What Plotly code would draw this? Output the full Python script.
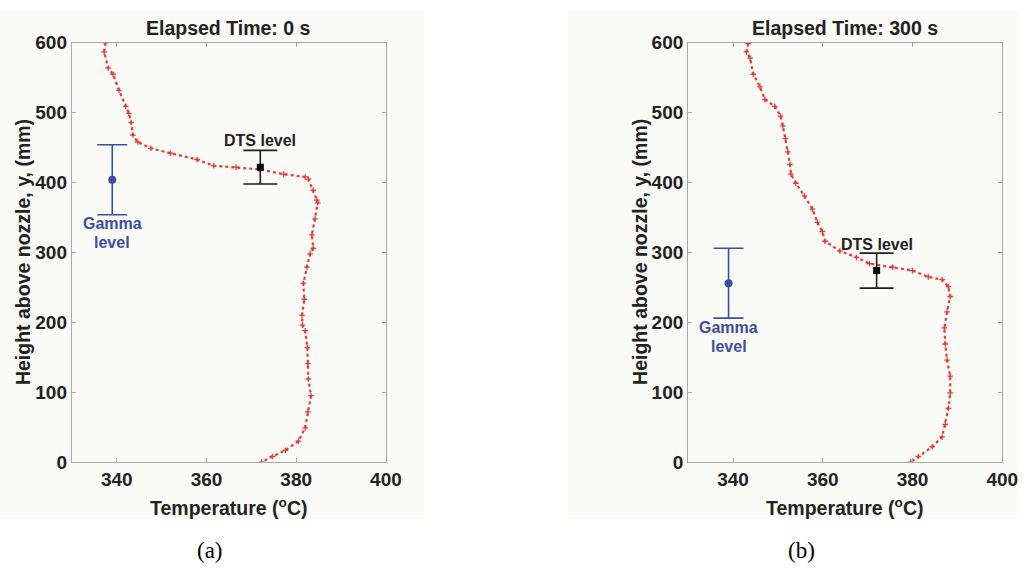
import plotly.graph_objects as go

# ---- data ----
temp_a = [337.5, 337.2, 338.1, 339.2, 340.5, 342.0, 342.7, 343.2, 343.6, 344.7, 347.6, 352.0,
          357.9, 361.6, 366.6, 371.7, 377.2, 382.0, 382.7, 383.8, 384.6, 384.8, 384.2, 383.5,
          383.8, 383.1, 382.4, 381.6, 381.8, 381.3, 381.4, 382.0, 382.5, 382.6, 382.7, 383.3,
          382.6, 382.0, 380.5, 377.6, 374.7, 372.3]
height_a = [600, 587, 564, 555, 532, 509, 499, 486, 468, 458, 449, 442,
            433, 424, 422, 419, 412, 408, 405, 389, 375, 371, 348, 325,
            306, 298, 279, 256, 233, 210, 196, 188, 164, 141, 119, 95,
            72, 49, 30, 17, 8, 0]

temp_b = [343.4, 343.0, 343.8, 344.5, 346.0, 347.1, 349.3, 350.6, 351.1, 351.7, 352.2, 352.7,
          352.9, 354.0, 355.9, 357.7, 358.8, 359.9, 360.5, 363.8, 367.5, 370.4, 375.6, 380.0,
          383.5, 386.6, 388.0, 388.4, 387.7, 387.1, 387.3, 387.7, 388.4, 388.4, 388.0, 387.3,
          386.6, 384.4, 381.3, 379.6]
height_b = [599, 587, 578, 555, 537, 519, 509, 495, 481, 463, 444, 426,
            412, 399, 381, 362, 343, 330, 316, 302, 293, 284, 279, 274,
            265, 261, 251, 237, 215, 192, 169, 146, 123, 99, 77, 54,
            36, 22, 8, 0]

gamma_x = [339, 339]
gamma_y = [404, 256]
gamma_err = [50, 50]
dts_x = [372, 372]
dts_y = [422, 274]
dts_err = [24, 25]

titles = ["Elapsed Time: 0 s", "Elapsed Time: 300 s"]
captions = ["(a)", "(b)"]
x_ticks = [340, 360, 380, 400]
y_ticks = [0, 100, 200, 300, 400, 500, 600]

RED = "#e43a3a"
BLUE = "#3a4ea6"
DARK = "#1e1e1e"
AXC = "#a8a8a8"

W, H = 1034, 583
fig = go.Figure()

# faint panel backgrounds
fig.add_shape(type="rect", xref="paper", yref="paper", x0=0, x1=431 / W, y0=1 - 528 / H, y1=1,
              fillcolor="#fafaf6", line_width=0, layer="below")
fig.add_shape(type="rect", xref="paper", yref="paper", x0=577 / W, x1=1, y0=1 - 528 / H, y1=1,
              fillcolor="#fafaf6", line_width=0, layer="below")

curves = [(temp_a, height_a), (temp_b, height_b)]
xdoms = [[73 / W, 392 / W], [699 / W, 1018 / W]]
ydom = [1 - 469 / H, 1 - 34 / H]

for i in range(2):
    xa = "x" if i == 0 else "x2"
    ya = "y" if i == 0 else "y2"
    t, h = curves[i]
    fig.add_trace(go.Scatter(x=t, y=h, xaxis=xa, yaxis=ya, mode="lines+markers",
                             line=dict(color=RED, width=2.2, dash="dot"),
                             marker=dict(color=RED, size=4, symbol="cross-thin",
                                         line=dict(color=RED, width=1.3)),
                             showlegend=False))
    fig.add_trace(go.Scatter(x=[gamma_x[i]], y=[gamma_y[i]], xaxis=xa, yaxis=ya, mode="markers",
                             marker=dict(color=BLUE, size=8, symbol="circle"),
                             error_y=dict(type="data", array=[gamma_err[i]], color=BLUE,
                                          thickness=1.6, width=15),
                             showlegend=False))
    fig.add_trace(go.Scatter(x=[dts_x[i]], y=[dts_y[i]], xaxis=xa, yaxis=ya, mode="markers",
                             marker=dict(color="black", size=7, symbol="square"),
                             error_y=dict(type="data", array=[dts_err[i]], color=DARK,
                                          thickness=1.6, width=17),
                             showlegend=False))

axis_common = dict(showline=True, linecolor=AXC, linewidth=1.2, mirror="ticks",
                   ticks="inside", ticklen=4, tickcolor=AXC, showgrid=False, zeroline=False,
                   tickfont=dict(family="Liberation Sans, Arial", size=19, color="#222222",
                                 weight="bold"))

fig.update_layout(
    width=W, height=H, margin=dict(l=0, r=0, t=0, b=0),
    paper_bgcolor="white", plot_bgcolor="white", showlegend=False,
    xaxis=dict(domain=xdoms[0], range=[330, 400], tickvals=x_ticks, anchor="y", **axis_common),
    yaxis=dict(domain=ydom, range=[0, 600], tickvals=y_ticks, anchor="x", **axis_common),
    xaxis2=dict(domain=xdoms[1], range=[330, 400], tickvals=x_ticks, anchor="y2", **axis_common),
    yaxis2=dict(domain=ydom, range=[0, 600], tickvals=y_ticks, anchor="x2", **axis_common),
)

bold16 = dict(family="Liberation Sans, Arial", size=16, color="#222222", weight="bold")
bold20 = dict(family="Liberation Sans, Arial", size=19.5, color="#222222", weight="bold")
ann = []
for i in range(2):
    xref = "x" if i == 0 else "x2"
    yref = "y" if i == 0 else "y2"
    cx = (xdoms[i][0] + xdoms[i][1]) / 2
    ann.append(dict(text=titles[i], xref="paper", yref="paper", x=cx, y=1 - 19 / H,
                    showarrow=False, font=bold20, xanchor="center", yanchor="middle"))
    ann.append(dict(text="Temperature (<sup>o</sup>C)", xref="paper", yref="paper", x=cx,
                    y=1 - 516 / H, showarrow=False, font=bold20, xanchor="center",
                    yanchor="middle"))
    ann.append(dict(text="Height above nozzle, y, (mm)", xref="paper", yref="paper",
                    x=(23.5 if i == 0 else 650) / W, y=1 - 251 / H, textangle=-90,
                    showarrow=False, font=bold20, xanchor="center", yanchor="middle"))
    ann.append(dict(text=captions[i], xref="paper", yref="paper",
                    x=(213 if i == 0 else 814) / W, y=1 - 561 / H, showarrow=False,
                    font=dict(family="Liberation Serif, Times New Roman", size=23, color="black"),
                    xanchor="center", yanchor="middle"))
    ann.append(dict(text="DTS level", xref=xref, yref=yref, x=dts_x[i],
                    y=dts_y[i] + 38, showarrow=False, font=bold16,
                    xanchor="center", yanchor="middle"))
    gy = gamma_y[i] - gamma_err[i]
    ann.append(dict(text="Gamma", xref=xref, yref=yref, x=gamma_x[i], y=gy - 13,
                    showarrow=False, font=dict(family="Liberation Sans, Arial", size=16,
                                               color=BLUE, weight="bold"),
                    xanchor="center", yanchor="middle"))
    ann.append(dict(text="level", xref=xref, yref=yref, x=gamma_x[i], y=gy - 40,
                    showarrow=False, font=dict(family="Liberation Sans, Arial", size=16,
                                               color=BLUE, weight="bold"),
                    xanchor="center", yanchor="middle"))
fig.update_layout(annotations=ann)

fig.write_html("out.html")
